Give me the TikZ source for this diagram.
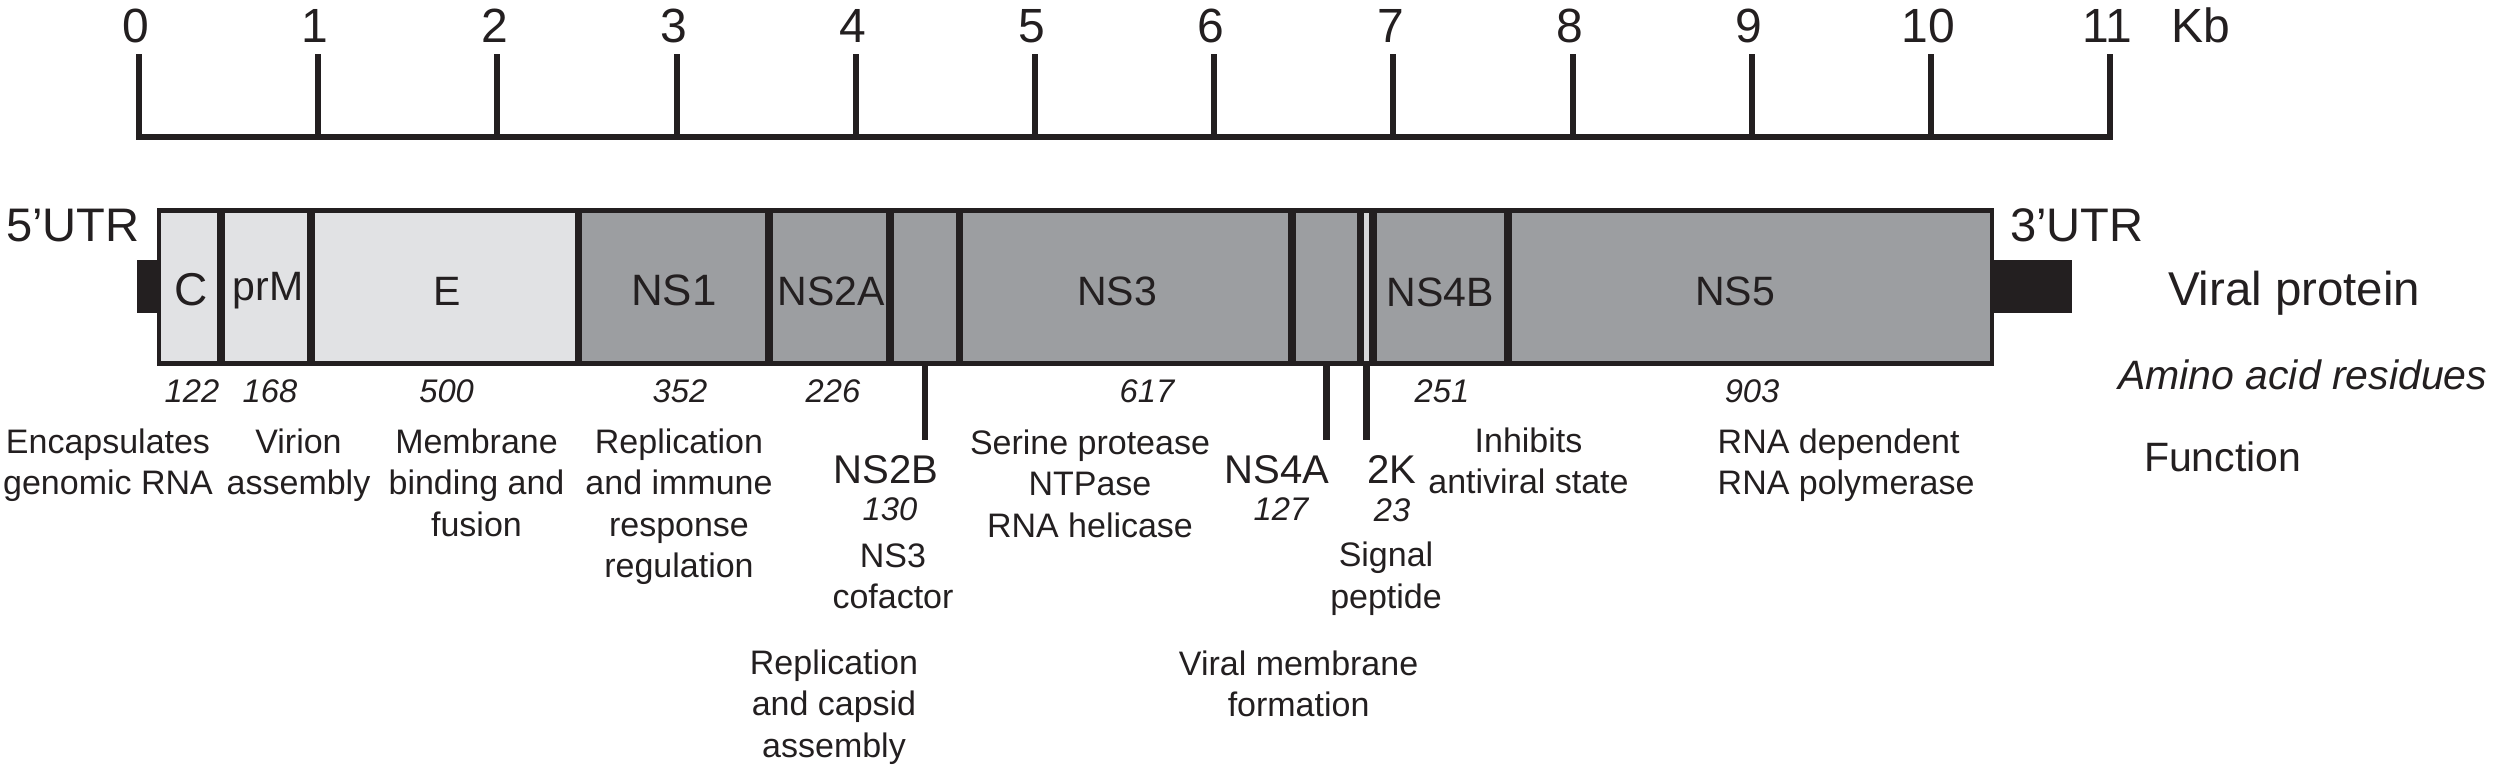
\documentclass[tikz,border=0pt]{standalone}
\usepackage{fontspec}
\setmainfont{Liberation Sans}
\definecolor{lg}{HTML}{E1E2E4}
\definecolor{dg}{HTML}{9C9EA1}
\definecolor{ink}{HTML}{231F20}
\begin{document}
\begin{tikzpicture}[x=0.1mm,y=-0.1mm,
  every node/.style={inner sep=0pt, outer sep=0pt, text=ink},
  axisline/.style={draw=ink, line width=1.7pt, line cap=rect},
  seg/.style={rectangle, inner sep=0pt, minimum height=15.35mm, anchor=west},
  boxborder/.style={draw=ink, line width=1.42pt},
  divider/.style={draw=ink, line width=2pt},
  ptr/.style={draw=ink, line width=1.85pt},
  utrbox/.style={rectangle, fill=ink, minimum height=5.27mm},
  toplbl/.style={anchor=base, font=\fontsize{13.66pt}{16pt}\selectfont},
  side/.style={anchor=base west, font=\fontsize{13.4pt}{16pt}\selectfont},
  boxlbl/.style={anchor=base, font=\fontsize{11.67pt}{14pt}\selectfont},
  aa/.style={anchor=base, font=\fontsize{9.3pt}{11pt}\selectfont\itshape},
  fn/.style={anchor=base, align=center, font=\fontsize{9.67pt}{11.8pt}\selectfont},
  bigl/.style={anchor=base, font=\fontsize{11.4pt}{13pt}\selectfont}]
\useasboundingbox (0,0) rectangle (2494,766);

% scale
\foreach \k in {0,...,11} {
  \pgfmathsetmacro\xx{139+179.2*\k}
  \draw[axisline] (\xx,57) -- (\xx,137);
  \node[toplbl] (t\k) at (\xx-3,42.7) {\k};
}
\draw[axisline] (139,137) -- (2110.2,137);
\node[side, font=\fontsize{13.66pt}{16pt}\selectfont] (kb) at (2171,42.7) {Kb};

% segments
\node[seg, fill=lg, minimum width=6.2mm]   (C)    at (159,286.75) {};
\node[seg, fill=lg, minimum width=9.0mm]   (prM)  at (C.east) {};
\node[seg, fill=lg, minimum width=26.76mm] (E)    at (prM.east) {};
\node[seg, fill=dg, minimum width=19.04mm] (NS1)  at (E.east) {};
\node[seg, fill=dg, minimum width=12.1mm]  (NS2A) at (NS1.east) {};
\node[seg, fill=dg, minimum width=6.96mm]  (NS2B) at (NS2A.east) {};
\node[seg, fill=dg, minimum width=33.24mm] (NS3)  at (NS2B.east) {};
\node[seg, fill=dg, minimum width=6.85mm]  (NS4A) at (NS3.east) {};
\node[seg, fill=lg!85!dg, minimum width=1.25mm] (K2) at (NS4A.east) {};
\node[seg, fill=dg, minimum width=13.5mm]  (NS4B) at (K2.east) {};
\node[seg, fill=dg, minimum width=48.4mm]  (NS5)  at (NS4B.east) {};
\foreach \s in {C,prM,E,NS1,NS2A,NS2B,NS3,NS4A,K2,NS4B}
  \draw[divider] (\s.north east) -- (\s.south east);
\draw[boxborder] (C.north west) rectangle (NS5.south east);

% UTR ends
\node[utrbox, minimum width=2.17mm, anchor=east] (u5) at (C.west) {};
\node[utrbox, minimum width=8.0mm, anchor=west] (u3) at (NS5.east) {};
\node[side] (l5) at (6,241.7) {5’UTR};
\node[side] (l3) at (2010,241.7) {3’UTR};

% labels inside
\node[boxlbl, font=\fontsize{13.1pt}{15pt}\selectfont] (lC) at (191,305) {C};
\node[boxlbl] (lprM) at (268,300) {prM};
\node[boxlbl] (lE) at (447,305) {E};
\node[boxlbl, font=\fontsize{12.5pt}{15pt}\selectfont] (lNS1) at (674,305) {NS1};
\node[boxlbl] (lNS2A) at (831,305) {NS2A};
\node[boxlbl] (lNS3) at (1117,305) {NS3};
\node[boxlbl] (lNS4B) at (1440.5,306) {NS4B};
\node[boxlbl] (lNS5) at (1735,305) {NS5};

% pointers
\coordinate (pB) at (NS2B.south |- 0,440);
\coordinate (pA) at (NS4A.south |- 0,440);
\coordinate (pK) at (K2.south |- 0,440);
\draw[ptr] (NS2B.south) -- (pB);
\draw[ptr] (NS4A.south) -- (pA);
\draw[ptr] (K2.south) -- (pK);

% right legend
\node[side, font=\fontsize{13.5pt}{16pt}\selectfont] (vp) at (2168,305) {Viral protein};
\node[side, font=\fontsize{11.67pt}{14pt}\selectfont\itshape] (aar) at (2118,389) {Amino acid residues};
\node[side, font=\fontsize{11.67pt}{14pt}\selectfont] (fun) at (2144,471.7) {Function};

% residue counts
\node[aa] (n1) at (192,402) {122};
\node[aa] (n2) at (270,402) {168};
\node[aa] (n3) at (446.6,402) {500};
\node[aa] (n4) at (680,402) {352};
\node[aa] (n5) at (833,402) {226};
\node[aa] (n6) at (1147,402) {617};
\node[aa] (n7) at (1442,402) {251};
\node[aa] (n8) at (1752,402) {903};

% functions (anchor = baseline of last line)
\node[fn] (f1) at (108,494.5) {Encapsulates\\genomic RNA};
\node[fn] (f2) at (298.5,494.5) {Virion\\assembly};
\node[fn] (f3) at (476.5,536) {Membrane\\binding and\\fusion};
\node[fn] (f4) at (679,577.5) {Replication\\and immune\\response\\regulation};
\node[fn] (f5) at (1090,537) {Serine protease\\NTPase\\RNA helicase};
\node[fn] (f6) at (1528.5,493.5) {Inhibits\\antiviral state};
\node[fn, anchor=base west, align=left] (f7) at (1717.7,494.5) {RNA dependent\\RNA polymerase};

% small proteins
\node[bigl] (bNS2B) at (886,483) {NS2B};
\node[aa] (n9) at (890,520) {130};
\node[fn] (f8) at (893,608.5) {NS3\\cofactor};
\node[fn] (f9) at (834,757) {Replication\\and capsid\\assembly};
\node[bigl] (bNS4A) at (1277,483) {NS4A};
\node[aa] (n10) at (1281,520) {127};
\node[bigl] (b2K) at (1392,483) {2K};
\node[aa] (n11) at (1392,521) {23};
\node[fn] (f10) at (1386,608.2) {Signal\\peptide};
\node[fn] (f11) at (1298.6,716.5) {Viral membrane\\formation};
\end{tikzpicture}
\end{document}
